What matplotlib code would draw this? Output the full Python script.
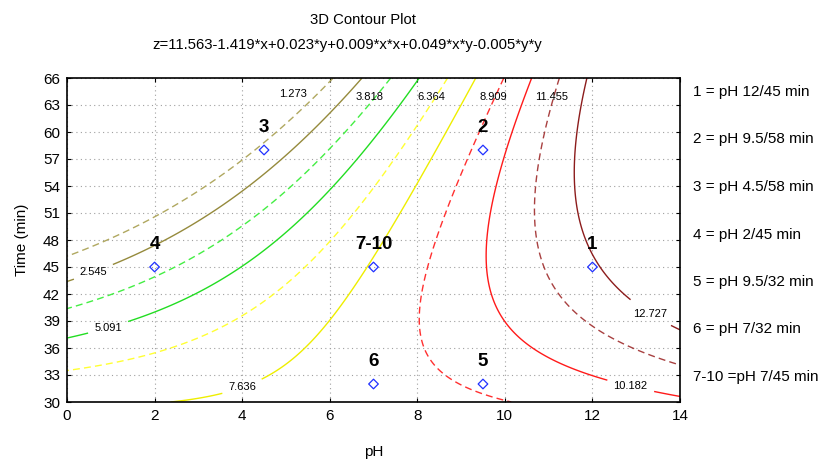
import numpy as np
import matplotlib
matplotlib.use("Agg")
import matplotlib.pyplot as plt

plt.rcParams['font.family'] = ['Liberation Sans', 'DejaVu Sans']

# superficie ajustada (coeficientes del titulo; y*y ajustado a las curvas dibujadas)
coef = [11.563, -1.419, 0.023, 0.009, 0.049, -0.00532]
niveles = [1.273, 2.545, 3.818, 5.091, 6.364, 7.636, 8.909, 10.182, 11.455, 12.727]
colores = ['#b0a860', '#958a3c', '#44ee44', '#22dd22', '#ffff33',
           '#eeee00', '#ff3030', '#ff1a1a', '#a84040', '#8c1c1c']

# puntos experimentales
ph = [12, 9.5, 4.5, 2, 9.5, 7, 7]
tiempo = [45, 58, 58, 45, 32, 32, 45]
etiquetas = ['1', '2', '3', '4', '5', '6', '7-10']
leyenda = ['1 = pH 12/45 min', '2 = pH 9.5/58 min', '3 = pH 4.5/58 min',
           '4 = pH 2/45 min', '5 = pH 9.5/32 min', '6 = pH 7/32 min',
           '7-10 =pH 7/45 min']

# donde van las etiquetas de las curvas
pos_inline = [(0.6, 44.5), (0.95, 38.1), (4.03, 31.3), (12.85, 31.3), (13.25, 39.3)]
pos_texto = {1.273: (5.16, 64.2), 3.818: (6.92, 63.9), 6.364: (8.33, 63.9),
             8.909: (9.73, 63.9), 11.455: (11.07, 63.9)}

x = np.linspace(0, 14, 300)
y = np.linspace(30, 66, 300)
X, Y = np.meshgrid(x, y)
a, b, c, d, e, f = coef
Z = a + b * X + c * Y + d * X * X + e * X * Y + f * Y * Y

fig = plt.figure(figsize=(8.24, 4.59), dpi=100)
ax = fig.add_axes([67 / 824, 1 - 402 / 459, 613 / 824, 324 / 459])

estilos = [(0, (5, 3)) if i % 2 == 0 else 'solid' for i in range(len(niveles))]
cs = ax.contour(X, Y, Z, levels=niveles, colors=colores, linewidths=1.0,
                linestyles=estilos)

textos = ax.clabel(cs, manual=pos_inline, inline=True, fmt='%.3f',
                   fontsize=8, colors='black', inline_spacing=7)
for t in textos:
    t.set_rotation(0)
for nivel, pos in pos_texto.items():
    ax.text(pos[0], pos[1], f'{nivel:.3f}', fontsize=8, ha='center', va='center')

ax.scatter(ph, tiempo, marker='D', s=24, facecolors='none', edgecolors='#2030ff',
           linewidths=0.9, zorder=5)
for px, py, lab in zip(ph, tiempo, etiquetas):
    ax.annotate(lab, (px, py), xytext=(0, 16), textcoords='offset points',
                ha='center', va='center', fontsize=13.5, fontweight='bold')

ax.set_xlim(0, 14)
ax.set_ylim(30, 66)
ax.set_xticks(np.arange(0, 15, 2))
ax.set_yticks(np.arange(30, 67, 3))
ax.grid(True, linestyle=(0, (1, 3)), color='#a0a0a0', linewidth=0.8)
ax.tick_params(direction='in', length=3, top=True, right=True, labelsize=11, pad=5)
for s in ax.spines.values():
    s.set_linewidth(1.2)

ax.set_xlabel('pH', fontsize=11, labelpad=16)
ax.set_ylabel('Time (min)', fontsize=11, labelpad=10)

fig.text(363 / 824, 1 - 20 / 459, '3D Contour Plot', ha='center', va='center', fontsize=10.7)
fig.text(347 / 824, 1 - 45 / 459,
         'z=11.563-1.419*x+0.023*y+0.009*x*x+0.049*x*y-0.005*y*y',
         ha='center', va='center', fontsize=10.7)

for i, txt in enumerate(leyenda):
    fig.text(693 / 824, 1 - (92 + i * 47.5) / 459, txt, ha='left', va='center', fontsize=11)

fig.savefig('out.png', dpi=100)
